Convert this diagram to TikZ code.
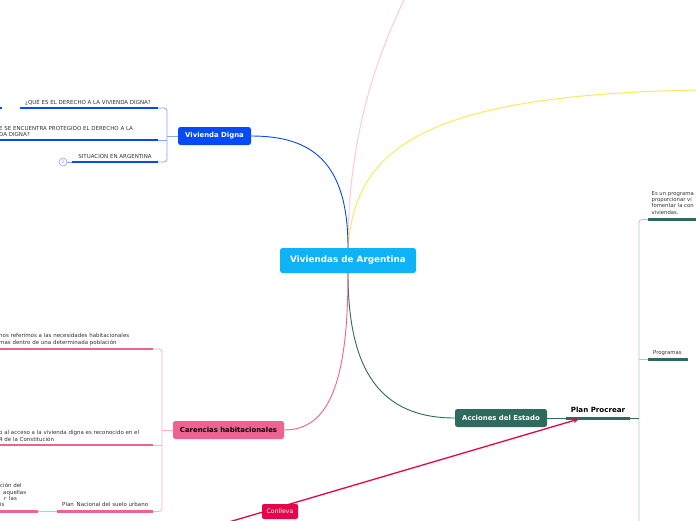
\documentclass[tikz,border=0pt]{standalone}
\usepackage{fontspec}
\setmainfont{DejaVu Sans}
\usetikzlibrary{arrows.meta}
\definecolor{cenblue}{RGB}{14,178,247}
\definecolor{digblue}{RGB}{5,75,245}
\definecolor{brblue}{RGB}{135,165,250}
\definecolor{pinknode}{RGB}{240,98,146}
\definecolor{pinkbr}{RGB}{250,175,205}
\definecolor{pinktop}{RGB}{255,200,222}
\definecolor{yel}{RGB}{255,232,90}
\definecolor{grn}{RGB}{46,107,94}
\definecolor{grnbr}{RGB}{175,205,195}
\definecolor{redc}{RGB}{230,5,75}
\definecolor{lbltext}{RGB}{50,50,50}
\begin{document}
\begin{tikzpicture}[x=1pt,y=-1pt,
  lbl/.style={font=\fontsize{5.5}{6.2}\selectfont, text=lbltext, inner sep=0pt, align=left},
  topic/.style={rounded corners=2.5pt, minimum height=18pt, inner sep=0pt, text=white,
     font=\fontsize{6.9}{8}\selectfont\bfseries},
  bar/.style={line width=2.4pt},
  brk/.style={line width=0.8pt, rounded corners=3pt}]
\useasboundingbox (0,0) rectangle (696,520);
\fill[white] (0,0) rectangle (696,520);

% nodes
\node[topic, fill=cenblue, minimum width=136pt, minimum height=25pt,
  font=\fontsize{8.8}{10}\selectfont\bfseries] (root) at (348,260.5) {Viviendas de Argentina};
\node[topic, fill=digblue, minimum width=73pt] (vd) at (214.5,136) {Vivienda Digna};
\node[topic, fill=pinknode, minimum width=111pt, text=black] (car) at (228.5,430) {Carencias habitacionales};
\node[topic, fill=grn, minimum width=92pt] (acc) at (501,418) {Acciones del Estado};

% main curves
\draw[pinktop, line width=1pt] (root.north) .. controls (348,150) and (370,70) .. (405,-2);
\draw[yel, line width=1pt] (root.north) .. controls (355,150) and (420,95) .. (698,90);
\draw[digblue, line width=0.9pt] (root.north) .. controls (348,160) and (310,136) .. (vd.east);
\draw[grn, line width=0.9pt] (root.south) .. controls (348,370) and (380,418) .. (acc.west);
\draw[pinknode, line width=0.9pt] (root.south) .. controls (348,380) and (330,430) .. (car.east);

% Vivienda Digna branch
\coordinate (b1l) at (20,108);  \coordinate (b1r) at (158,108);
\coordinate (b2l) at (0,140);   \coordinate (b2r) at (158,140);
\coordinate (b3l) at (72,162);  \coordinate (b3r) at (158,162);
\draw[brblue, brk] (b1r) -- (167,108) -- (167,162) -- (b3r);
\draw[brblue, line width=0.8pt] (b2r) -- (167,140);
\draw[brblue, line width=0.8pt] (vd.west) -- (167,136);
\draw[digblue, bar] (b1l) -- (b1r);
\draw[digblue, bar] (b2l) -- (b2r);
\draw[digblue, bar] (b3l) -- (b3r);
\draw[digblue, bar] (0,108) -- (2,108);
\node[lbl, anchor=base] (t1) at (88,104) {¿QUÉ ES EL DERECHO A LA VIVIENDA DIGNA?};
\node[lbl, anchor=base west, font=\fontsize{5.5}{6}\selectfont] (t2) at (-1,136) {E SE ENCUENTRA PROTEGIDO EL DERECHO A LA\\DA DIGNA?};
\node[lbl, anchor=base] (t3) at (115,158) {SITUACIÓN EN ARGENTINA};
\node[circle, draw=brblue, fill=white, line width=0.6pt, minimum size=8pt, inner sep=0pt,
  font=\fontsize{4.5}{5}\selectfont, text=brblue] (n2) at (63,162) {2};
\draw[brblue, line width=0.6pt] (n2) -- (b3l);

% Carencias branch
\coordinate (c1l) at (0,349);  \coordinate (c1r) at (153,349);
\coordinate (c2l) at (0,445);  \coordinate (c2r) at (153,445);
\coordinate (c3l) at (57,511.5); \coordinate (c3r) at (153,511.5);
\coordinate (c4l) at (0,511.5);  \coordinate (c4r) at (38,511.5);
\draw[pinkbr, brk] (c1r) -- (162,349) -- (162,511.5) -- (c3r);
\draw[pinkbr, line width=0.8pt] (c2r) -- (162,445);
\draw[pinkbr, line width=0.8pt] (car.west) -- (162,430);
\draw[pinkbr, line width=0.8pt] (c4r) -- (c3l);
\draw[pinknode, bar] (c1l) -- (c1r);
\draw[pinknode, bar] (c2l) -- (c2r);
\draw[pinknode, bar] (c3l) -- (c3r);
\draw[pinknode, bar] (c4l) -- (c4r);
\node[lbl, anchor=base west, font=\fontsize{5.5}{7.5}\selectfont] (s1) at (-1,344.5)
  {nos referimos a las necesidades habitacionales\\mas dentro de una determinada población};
\node[lbl, anchor=base west, font=\fontsize{5.5}{6.8}\selectfont] (s2) at (-1,441)
  {o al acceso a la vivienda digna es reconocido en el\\4 de la Constitución};
\node[lbl, anchor=base west] (s3) at (62,506.5) {Plan\enspace Nacional del suelo urbano};
\node[lbl, anchor=base west] (s4a) at (0,487) {ción del};
\node[lbl, anchor=base west] (s4b) at (3,494) {aquellas};
\node[lbl, anchor=base west] (s4c) at (4,500.5) {r\enspace las};
\node[lbl, anchor=base west] (s4d) at (0,506.5) {is};

% Acciones del Estado branch
\coordinate (ppl) at (566,418); \coordinate (ppr) at (630,418);
\coordinate (e1l) at (648,219.5); \coordinate (e1r) at (698,219.5);
\coordinate (e2l) at (648,359); \coordinate (e2r) at (688,359);
\draw[grnbr, brk] (e1l) -- (639,219.5) -- (639,522);
\draw[grnbr, line width=0.8pt] (e2l) -- (639,359);
\draw[grn, line width=0.8pt] (acc.east) -- (ppl);
\draw[grn, line width=0.8pt] (ppr) -- (639,418);
\draw[grn, line width=3pt] (ppl) -- (ppr);
\draw[grn, line width=3pt] (e1l) -- (e1r);
\draw[grn, line width=3pt] (e2l) -- (e2r);
\node[lbl, anchor=base, text=black, font=\fontsize{7.1}{8}\selectfont\bfseries] (pp) at (598,412.5) {Plan Procrear};
\node[lbl, anchor=base west, font=\fontsize{5.3}{6.3}\selectfont] (q1) at (651.5,214)
  {Es un programa\\proporcionar vi\\fomentar la con\\viviendas.};
\node[lbl, anchor=base west, font=\fontsize{5.3}{6}\selectfont] (q2) at (653,354) {Programas};

% Conlleva arrow
\coordinate (cstart) at (200,530.5);
\coordinate (ptip) at (579,419);
\draw[redc, line width=1.3pt, -{Stealth[length=6pt,width=5pt]}] (cstart) -- (ptip);
\node[rounded corners=2pt, fill=redc, text=white, minimum width=36pt, minimum height=15pt,
  inner sep=0pt, font=\fontsize{6.2}{7}\selectfont] (con) at (280,511.5) {Conlleva};
\end{tikzpicture}
\end{document}
